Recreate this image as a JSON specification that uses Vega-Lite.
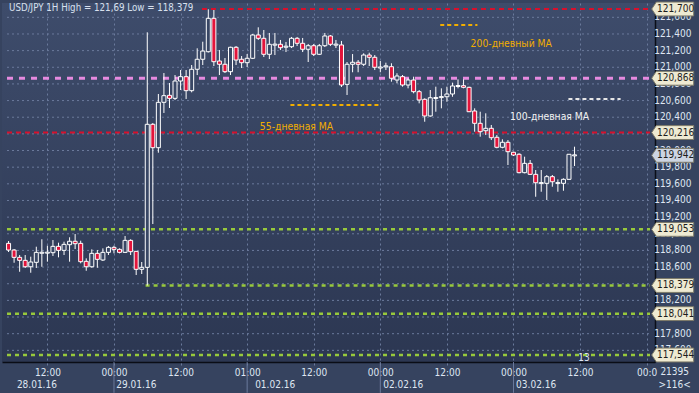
{
  "$schema": "https://vega.github.io/schema/vega-lite/v6.json",
  "width": 653,
  "height": 359,
  "autosize": {"type": "none"},
  "padding": {"left": 2, "top": 3, "right": 44, "bottom": 31},
  "background": "#36435f",
  "config": {
    "font": "'Liberation Sans Narrow', 'DejaVu Sans Condensed', 'Liberation Sans', sans-serif",
    "axis": {"labelOverlap": false, "labelFlush": false},
    "view": {
      "stroke": null,
      "fill": {"gradient": "linear", "x1": 0, "y1": 0, "x2": 0, "y2": 1, "stops": [{"offset": 0, "color": "#3e4c6b"}, {"offset": 1, "color": "#2c3752"}]}
    },
    "text": {"font": "'Liberation Sans Narrow', 'DejaVu Sans Condensed', 'Liberation Sans', sans-serif", "fontSize": 10}
  },
  "datasets": {
    "candles": [
      {"t": -7, "o": 118.885, "h": 118.913, "l": 118.781, "c": 118.805},
      {"t": -6, "o": 118.805, "h": 118.817, "l": 118.652, "c": 118.717},
      {"t": -5, "o": 118.717, "h": 118.745, "l": 118.544, "c": 118.681},
      {"t": -4, "o": 118.681, "h": 118.745, "l": 118.589, "c": 118.604},
      {"t": -3, "o": 118.604, "h": 118.725, "l": 118.532, "c": 118.661},
      {"t": -2, "o": 118.657, "h": 118.845, "l": 118.589, "c": 118.777},
      {"t": -1, "o": 118.766, "h": 118.934, "l": 118.604, "c": 118.778},
      {"t": 0, "o": 118.767, "h": 118.857, "l": 118.665, "c": 118.779},
      {"t": 1, "o": 118.773, "h": 118.925, "l": 118.733, "c": 118.849},
      {"t": 2, "o": 118.849, "h": 118.893, "l": 118.717, "c": 118.801},
      {"t": 3, "o": 118.801, "h": 118.905, "l": 118.745, "c": 118.873},
      {"t": 4, "o": 118.869, "h": 118.958, "l": 118.665, "c": 118.910},
      {"t": 5, "o": 118.910, "h": 118.997, "l": 118.817, "c": 118.881},
      {"t": 6, "o": 118.885, "h": 118.917, "l": 118.645, "c": 118.665},
      {"t": 7, "o": 118.669, "h": 118.705, "l": 118.556, "c": 118.604},
      {"t": 8, "o": 118.604, "h": 118.813, "l": 118.592, "c": 118.765},
      {"t": 9, "o": 118.765, "h": 118.805, "l": 118.592, "c": 118.693},
      {"t": 10, "o": 118.685, "h": 118.825, "l": 118.673, "c": 118.777},
      {"t": 11, "o": 118.777, "h": 118.853, "l": 118.745, "c": 118.837},
      {"t": 12, "o": 118.837, "h": 118.857, "l": 118.765, "c": 118.813},
      {"t": 13, "o": 118.813, "h": 118.825, "l": 118.765, "c": 118.777},
      {"t": 14, "o": 118.777, "h": 118.973, "l": 118.769, "c": 118.921},
      {"t": 15, "o": 118.921, "h": 118.934, "l": 118.745, "c": 118.785},
      {"t": 16, "o": 118.789, "h": 118.793, "l": 118.505, "c": 118.573},
      {"t": 17, "o": 118.573, "h": 118.661, "l": 118.517, "c": 118.597},
      {"t": 18, "o": 118.597, "h": 121.420, "l": 118.379, "c": 120.315},
      {"t": 19, "o": 120.315, "h": 120.331, "l": 119.117, "c": 120.034},
      {"t": 20, "o": 120.034, "h": 120.679, "l": 119.974, "c": 120.579},
      {"t": 21, "o": 120.579, "h": 120.931, "l": 120.451, "c": 120.659},
      {"t": 22, "o": 120.663, "h": 120.811, "l": 120.511, "c": 120.627},
      {"t": 23, "o": 120.627, "h": 120.907, "l": 120.607, "c": 120.835},
      {"t": 24, "o": 120.835, "h": 120.967, "l": 120.727, "c": 120.887},
      {"t": 25, "o": 120.887, "h": 120.967, "l": 120.619, "c": 120.719},
      {"t": 26, "o": 120.719, "h": 121.027, "l": 120.699, "c": 120.976},
      {"t": 27, "o": 120.976, "h": 121.228, "l": 120.907, "c": 121.096},
      {"t": 28, "o": 121.096, "h": 121.307, "l": 121.027, "c": 121.195},
      {"t": 29, "o": 121.187, "h": 121.696, "l": 121.177, "c": 121.588},
      {"t": 30, "o": 121.588, "h": 121.688, "l": 121.015, "c": 121.067},
      {"t": 31, "o": 121.075, "h": 121.207, "l": 120.907, "c": 121.036},
      {"t": 32, "o": 121.036, "h": 121.111, "l": 120.931, "c": 120.947},
      {"t": 33, "o": 120.947, "h": 121.247, "l": 120.907, "c": 121.240},
      {"t": 34, "o": 121.240, "h": 121.255, "l": 121.027, "c": 121.087},
      {"t": 35, "o": 121.096, "h": 121.135, "l": 120.991, "c": 121.055},
      {"t": 36, "o": 121.055, "h": 121.159, "l": 121.003, "c": 121.108},
      {"t": 37, "o": 121.108, "h": 121.400, "l": 121.099, "c": 121.388},
      {"t": 38, "o": 121.388, "h": 121.480, "l": 121.328, "c": 121.348},
      {"t": 39, "o": 121.348, "h": 121.448, "l": 121.123, "c": 121.156},
      {"t": 40, "o": 121.156, "h": 121.412, "l": 121.099, "c": 121.276},
      {"t": 41, "o": 121.266, "h": 121.412, "l": 121.147, "c": 121.278},
      {"t": 42, "o": 121.276, "h": 121.328, "l": 121.207, "c": 121.235},
      {"t": 43, "o": 121.241, "h": 121.304, "l": 121.183, "c": 121.253},
      {"t": 44, "o": 121.247, "h": 121.364, "l": 121.231, "c": 121.348},
      {"t": 45, "o": 121.348, "h": 121.364, "l": 121.255, "c": 121.288},
      {"t": 46, "o": 121.288, "h": 121.352, "l": 121.183, "c": 121.216},
      {"t": 47, "o": 121.216, "h": 121.280, "l": 121.063, "c": 121.259},
      {"t": 48, "o": 121.259, "h": 121.280, "l": 121.135, "c": 121.156},
      {"t": 49, "o": 121.156, "h": 121.280, "l": 121.147, "c": 121.259},
      {"t": 50, "o": 121.259, "h": 121.412, "l": 121.243, "c": 121.376},
      {"t": 51, "o": 121.376, "h": 121.388, "l": 121.255, "c": 121.276},
      {"t": 52, "o": 121.266, "h": 121.328, "l": 121.231, "c": 121.278},
      {"t": 53, "o": 121.268, "h": 121.316, "l": 120.763, "c": 120.787},
      {"t": 54, "o": 120.795, "h": 121.063, "l": 120.667, "c": 121.036},
      {"t": 55, "o": 121.036, "h": 121.159, "l": 120.940, "c": 121.060},
      {"t": 56, "o": 121.060, "h": 121.087, "l": 120.940, "c": 121.036},
      {"t": 57, "o": 121.036, "h": 121.168, "l": 121.015, "c": 121.147},
      {"t": 58, "o": 121.147, "h": 121.175, "l": 121.015, "c": 121.120},
      {"t": 59, "o": 121.120, "h": 121.147, "l": 120.967, "c": 121.000},
      {"t": 60, "o": 120.991, "h": 121.075, "l": 120.940, "c": 121.003},
      {"t": 61, "o": 121.005, "h": 121.055, "l": 120.967, "c": 121.017},
      {"t": 62, "o": 121.007, "h": 121.048, "l": 120.827, "c": 120.868},
      {"t": 63, "o": 120.847, "h": 120.928, "l": 120.807, "c": 120.895},
      {"t": 64, "o": 120.887, "h": 120.907, "l": 120.767, "c": 120.787},
      {"t": 65, "o": 120.787, "h": 120.868, "l": 120.747, "c": 120.847},
      {"t": 66, "o": 120.847, "h": 120.887, "l": 120.687, "c": 120.707},
      {"t": 67, "o": 120.707, "h": 120.727, "l": 120.567, "c": 120.607},
      {"t": 68, "o": 120.615, "h": 120.627, "l": 120.346, "c": 120.415},
      {"t": 69, "o": 120.415, "h": 120.727, "l": 120.406, "c": 120.634},
      {"t": 70, "o": 120.625, "h": 120.767, "l": 120.466, "c": 120.637},
      {"t": 71, "o": 120.636, "h": 120.747, "l": 120.507, "c": 120.648},
      {"t": 72, "o": 120.646, "h": 120.767, "l": 120.586, "c": 120.679},
      {"t": 73, "o": 120.679, "h": 120.815, "l": 120.646, "c": 120.775},
      {"t": 74, "o": 120.769, "h": 120.855, "l": 120.747, "c": 120.781},
      {"t": 75, "o": 120.779, "h": 120.855, "l": 120.747, "c": 120.759},
      {"t": 76, "o": 120.759, "h": 120.767, "l": 120.463, "c": 120.466},
      {"t": 77, "o": 120.475, "h": 120.507, "l": 120.226, "c": 120.327},
      {"t": 78, "o": 120.327, "h": 120.466, "l": 120.166, "c": 120.226},
      {"t": 79, "o": 120.238, "h": 120.447, "l": 120.186, "c": 120.267},
      {"t": 80, "o": 120.267, "h": 120.307, "l": 120.126, "c": 120.154},
      {"t": 81, "o": 120.159, "h": 120.186, "l": 120.027, "c": 120.039},
      {"t": 82, "o": 120.039, "h": 120.135, "l": 120.027, "c": 120.099},
      {"t": 83, "o": 120.099, "h": 120.126, "l": 119.826, "c": 119.986},
      {"t": 84, "o": 119.979, "h": 119.986, "l": 119.934, "c": 119.946},
      {"t": 85, "o": 119.955, "h": 119.967, "l": 119.726, "c": 119.734},
      {"t": 86, "o": 119.734, "h": 119.926, "l": 119.726, "c": 119.846},
      {"t": 87, "o": 119.846, "h": 119.886, "l": 119.706, "c": 119.714},
      {"t": 88, "o": 119.714, "h": 119.766, "l": 119.445, "c": 119.613},
      {"t": 89, "o": 119.603, "h": 119.766, "l": 119.505, "c": 119.615},
      {"t": 90, "o": 119.606, "h": 119.706, "l": 119.406, "c": 119.686},
      {"t": 91, "o": 119.686, "h": 119.706, "l": 119.565, "c": 119.625},
      {"t": 92, "o": 119.603, "h": 119.654, "l": 119.505, "c": 119.615},
      {"t": 93, "o": 119.606, "h": 119.666, "l": 119.517, "c": 119.654},
      {"t": 94, "o": 119.654, "h": 119.958, "l": 119.646, "c": 119.955},
      {"t": 95, "o": 119.936, "h": 120.046, "l": 119.814, "c": 119.948}
    ],
    "ticks": [
      {"v": 117.6, "lab": "117,600"}, {"v": 117.8, "lab": "117,800"}, {"v": 118.0, "lab": "118,000"},
      {"v": 118.2, "lab": "118,200"}, {"v": 118.4, "lab": "118,400"}, {"v": 118.6, "lab": "118,600"},
      {"v": 118.8, "lab": "118,800"}, {"v": 119.0, "lab": "119,000"}, {"v": 119.2, "lab": "119,200"},
      {"v": 119.4, "lab": "119,400"}, {"v": 119.6, "lab": "119,600"}, {"v": 119.8, "lab": "119,800"},
      {"v": 120.0, "lab": "120,000"}, {"v": 120.2, "lab": "120,200"}, {"v": 120.4, "lab": "120,400"},
      {"v": 120.6, "lab": "120,600"}, {"v": 120.8, "lab": "120,800"}, {"v": 121.0, "lab": "121,000"},
      {"v": 121.2, "lab": "121,200"}, {"v": 121.4, "lab": "121,400"}, {"v": 121.6, "lab": "121,600"}
    ],
    "tags": [
      {"v": 121.7, "lab": "121,700", "cur": 0},
      {"v": 120.868, "lab": "120,868", "cur": 0},
      {"v": 120.216, "lab": "120,216", "cur": 0},
      {"v": 119.942, "lab": "119,942", "cur": 1},
      {"v": 119.053, "lab": "119,053", "cur": 0},
      {"v": 118.379, "lab": "118,379", "cur": 0},
      {"v": 118.041, "lab": "118,041", "cur": 0},
      {"v": 117.544, "lab": "117,544", "cur": 0}
    ]
  },
  "layer": [
    {
      "data": {"name": "ticks"},
      "mark": {"type": "rule", "color": "#6b7a9c", "strokeWidth": 1, "strokeDash": [2, 3]},
      "encoding": {
        "x": {"datum": -7.28, "type": "quantitative", "scale": {"domain": [-7.28, 108.6], "nice": false, "zero": false},
          "axis": {"values": [0, 12, 24, 36, 48, 60, 72, 84, 96, 108], "title": null,
            "labelExpr": "datum.value == 36 ? '01:00' : datum.value == 108 ? '00:0' : (datum.value % 24 == 0 ? '12:00' : '00:00')",
            "grid": true, "gridColor": "#6b7a9c", "gridDash": [2, 3], "gridWidth": 1,
            "domainColor": "#0a0d16", "domainWidth": 1.5, "tickColor": "#6b7a9c", "tickSize": 3,
            "labelColor": "#dfe6f2", "labelFontSize": 10, "labelPadding": 2, "labelFlush": false, "labelOverlap": false,
            "labelFont": "'Liberation Sans Narrow', 'DejaVu Sans Condensed', 'Liberation Sans', sans-serif"}},
        "x2": {"datum": 108.6},
        "y": {"field": "v", "type": "quantitative", "scale": {"domain": [117.46, 121.772], "nice": false, "zero": false},
          "axis": {"orient": "right", "title": null, "values": [117.6, 121.6], "labels": false, "grid": false,
            "domainColor": "#0a0d16", "domainWidth": 1.5, "ticks": false}}
      }
    },
    {
      "data": {"values": [{"v": 121.7, "from": 27.86, "to": 108.6}, {"v": 120.216, "from": -7.28, "to": 108.6}]},
      "mark": {"type": "rule", "color": "#d8102c", "strokeWidth": 2, "strokeDash": [5, 4]},
      "encoding": {
        "x": {"field": "from", "type": "quantitative", "title": null, "scale": {"domain": [-7.28, 108.6], "nice": false, "zero": false}},
        "x2": {"field": "to"},
        "y": {"field": "v", "type": "quantitative", "title": null, "scale": {"domain": [117.46, 121.772], "nice": false, "zero": false}}
      }
    },
    {
      "data": {"values": [{"v": 120.868, "from": -7.28, "to": 108.6}]},
      "mark": {"type": "rule", "color": "#e68ae0", "strokeWidth": 3, "strokeDash": [6, 6]},
      "encoding": {
        "x": {"field": "from", "type": "quantitative", "title": null, "scale": {"domain": [-7.28, 108.6], "nice": false, "zero": false}},
        "x2": {"field": "to"},
        "y": {"field": "v", "type": "quantitative", "title": null, "scale": {"domain": [117.46, 121.772], "nice": false, "zero": false}}
      }
    },
    {
      "data": {"values": [{"v": 119.053, "from": -7.28, "to": 108.6}, {"v": 118.379, "from": 17.7, "to": 108.6}, {"v": 118.041, "from": -7.28, "to": 108.6}, {"v": 117.544, "from": -7.28, "to": 108.6}]},
      "mark": {"type": "rule", "color": "#98c93c", "strokeWidth": 2.5, "strokeDash": [4, 4]},
      "encoding": {
        "x": {"field": "from", "type": "quantitative", "title": null, "scale": {"domain": [-7.28, 108.6], "nice": false, "zero": false}},
        "x2": {"field": "to"},
        "y": {"field": "v", "type": "quantitative", "title": null, "scale": {"domain": [117.46, 121.772], "nice": false, "zero": false}}
      }
    },
    {
      "data": {"values": [{"t": 12}, {"t": 36}, {"t": 60}, {"t": 84}]},
      "mark": {"type": "rule", "color": "#6b7a9c", "strokeWidth": 1},
      "encoding": {
        "x": {"field": "t", "type": "quantitative", "title": null, "scale": {"domain": [-7.28, 108.6], "nice": false, "zero": false}},
        "y": {"datum": 117.46, "type": "quantitative", "title": null, "scale": {"domain": [117.46, 121.772], "nice": false, "zero": false}},
        "y2": {"datum": 117.09}
      }
    },
    {
      "data": {"name": "candles"},
      "mark": {"type": "rule", "color": "#ffffff", "strokeWidth": 1},
      "encoding": {
        "x": {"field": "t", "type": "quantitative", "title": null, "scale": {"domain": [-7.28, 108.6], "nice": false, "zero": false}},
        "y": {"field": "l", "type": "quantitative", "title": null, "scale": {"domain": [117.46, 121.772], "nice": false, "zero": false}},
        "y2": {"field": "h"}
      }
    },
    {
      "data": {"name": "candles"},
      "mark": {"type": "bar", "width": 4, "stroke": "#ffffff", "strokeWidth": 1},
      "encoding": {
        "x": {"field": "t", "type": "quantitative", "title": null, "scale": {"domain": [-7.28, 108.6], "nice": false, "zero": false}},
        "y": {"field": "o", "type": "quantitative", "title": null, "scale": {"domain": [117.46, 121.772], "nice": false, "zero": false}},
        "y2": {"field": "c"},
        "fill": {"condition": {"test": "datum.c < datum.o", "value": "#e3143b"}, "value": "#394765"}
      }
    },
    {
      "data": {"values": [{"v": 120.547, "from": 43.8, "to": 59.8}, {"v": 121.508, "from": 70.8, "to": 77.5}]},
      "mark": {"type": "rule", "color": "#f2ae00", "strokeWidth": 2, "strokeDash": [4, 3]},
      "encoding": {
        "x": {"field": "from", "type": "quantitative", "title": null, "scale": {"domain": [-7.28, 108.6], "nice": false, "zero": false}},
        "x2": {"field": "to"},
        "y": {"field": "v", "type": "quantitative", "title": null, "scale": {"domain": [117.46, 121.772], "nice": false, "zero": false}}
      }
    },
    {
      "data": {"values": [{"v": 120.619, "from": 93.9, "to": 103.3}]},
      "mark": {"type": "rule", "color": "#e6e6e6", "strokeWidth": 2, "strokeDash": [4, 3]},
      "encoding": {
        "x": {"field": "from", "type": "quantitative", "title": null, "scale": {"domain": [-7.28, 108.6], "nice": false, "zero": false}},
        "x2": {"field": "to"},
        "y": {"field": "v", "type": "quantitative", "title": null, "scale": {"domain": [117.46, 121.772], "nice": false, "zero": false}}
      }
    },
    {
      "data": {"values": [
        {"t": 44.9, "v": 120.282, "label": "55-дневная МА", "ma": "55"},
        {"t": 83.6, "v": 121.28, "label": "200-дневный МА", "ma": "200"},
        {"t": 90.5, "v": 120.403, "label": "100-дневная МА", "ma": "100"}
      ]},
      "mark": {"type": "text", "align": "center", "baseline": "middle", "fontSize": 10.3},
      "encoding": {
        "x": {"field": "t", "type": "quantitative", "title": null, "scale": {"domain": [-7.28, 108.6], "nice": false, "zero": false}},
        "y": {"field": "v", "type": "quantitative", "title": null, "scale": {"domain": [117.46, 121.772], "nice": false, "zero": false}},
        "text": {"field": "label"},
        "color": {"condition": {"test": "datum.ma == '100'", "value": "#f2f2f2"}, "value": "#f2ae00"}
      }
    },
    {
      "data": {"values": [{"t": -6.92, "v": 121.712, "label": "USD/JPY 1H High = 121,69 Low = 118,379"}]},
      "mark": {"type": "text", "align": "left", "baseline": "middle", "color": "#d8e0ee", "fontSize": 9.7},
      "encoding": {
        "x": {"field": "t", "type": "quantitative", "title": null, "scale": {"domain": [-7.28, 108.6], "nice": false, "zero": false}},
        "y": {"field": "v", "type": "quantitative", "title": null, "scale": {"domain": [117.46, 121.772], "nice": false, "zero": false}},
        "text": {"field": "label"}
      }
    },
    {
      "data": {"values": [
        {"t": -5.5, "label": "28.01.16"},
        {"t": 12.42, "label": "29.01.16"},
        {"t": 37.44, "label": "01.02.16"},
        {"t": 60.51, "label": "02.02.16"},
        {"t": 84.47, "label": "03.02.16"}
      ]},
      "mark": {"type": "text", "align": "left", "baseline": "middle", "color": "#dfe6f2", "fontSize": 10},
      "encoding": {
        "x": {"field": "t", "type": "quantitative", "title": null, "scale": {"domain": [-7.28, 108.6], "nice": false, "zero": false}},
        "y": {"datum": 117.183, "type": "quantitative", "title": null, "scale": {"domain": [117.46, 121.772], "nice": false, "zero": false}},
        "text": {"field": "label"}
      }
    },
    {
      "data": {"values": [
        {"t": 113.05, "v": 117.339, "label": "21395"},
        {"t": 113.05, "v": 117.183, "label": ">116<"},
        {"t": 96.7, "v": 117.508, "label": "13"}
      ]},
      "mark": {"type": "text", "align": "center", "baseline": "middle", "color": "#dfe6f2", "fontSize": 10},
      "encoding": {
        "x": {"field": "t", "type": "quantitative", "title": null, "scale": {"domain": [-7.28, 108.6], "nice": false, "zero": false}},
        "y": {"field": "v", "type": "quantitative", "title": null, "scale": {"domain": [117.46, 121.772], "nice": false, "zero": false}},
        "text": {"field": "label"}
      }
    },
    {
      "data": {"name": "ticks"},
      "mark": {"type": "text", "align": "left", "baseline": "middle", "color": "#dfe6f2", "fontSize": 10},
      "encoding": {
        "x": {"datum": 109.35, "type": "quantitative", "title": null, "scale": {"domain": [-7.28, 108.6], "nice": false, "zero": false}},
        "y": {"field": "v", "type": "quantitative", "title": null, "scale": {"domain": [117.46, 121.772], "nice": false, "zero": false}},
        "text": {"field": "lab"}
      }
    },
    {
      "data": {"name": "tags"},
      "mark": {"type": "point", "shape": "M-1,0L-0.78,-0.33H1V0.33H-0.78Z", "size": 1764, "filled": true, "opacity": 1, "stroke": "#7d7a68", "strokeWidth": 1},
      "encoding": {
        "x": {"datum": 112.69, "type": "quantitative", "title": null, "scale": {"domain": [-7.28, 108.6], "nice": false, "zero": false}},
        "y": {"field": "v", "type": "quantitative", "title": null, "scale": {"domain": [117.46, 121.772], "nice": false, "zero": false}},
        "fill": {"condition": {"test": "datum.cur == 1", "value": "#cdd5e2"}, "value": "#eeead2"}
      }
    },
    {
      "data": {"name": "tags"},
      "mark": {"type": "text", "align": "center", "baseline": "middle", "color": "#1c1c1c", "fontSize": 10},
      "encoding": {
        "x": {"datum": 113.2, "type": "quantitative", "title": null, "scale": {"domain": [-7.28, 108.6], "nice": false, "zero": false}},
        "y": {"field": "v", "type": "quantitative", "title": null, "scale": {"domain": [117.46, 121.772], "nice": false, "zero": false}},
        "text": {"field": "lab"}
      }
    }
  ]
}
